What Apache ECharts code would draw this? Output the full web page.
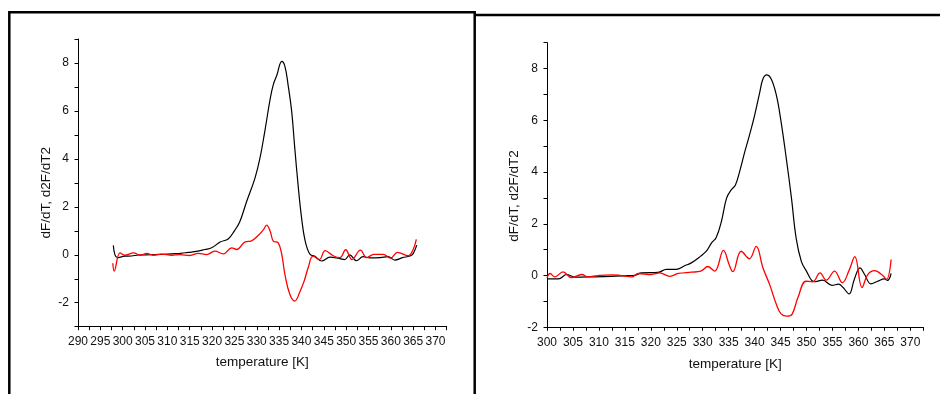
<!DOCTYPE html>
<html>
<head>
<meta charset="utf-8">
<script src="https://cdn.jsdelivr.net/npm/echarts@6/dist/echarts.min.js"></script>
<style>
  html, body { margin: 0; padding: 0; background: #fff; }
  #chart { width: 940px; height: 394px; }
</style>
</head>
<body>
<div id="chart"></div>
<script>
// left panel: first derivative (black) and second derivative (red)
const leftBlack = [
  [297.9, 0.39], [298.8, -0.12], [300.5, -0.06], [302, -0.05], [303.5, -0.01],
  [306.5, 0], [309, 0.02], [311, 0.04], [313, 0.06], [314.7, 0.1],
  [316.5, 0.14], [318.4, 0.22], [319.9, 0.29], [321.8, 0.53], [323.6, 0.66],
  [325, 1.0], [326.2, 1.38], [327.7, 2.2], [329.6, 3.2], [330.7, 4.02],
  [331.8, 5.15], [333, 6.5], [333.7, 7.1], [334.5, 7.5], [335.6, 8.07],
  [336.3, 7.86], [337, 7.1], [337.8, 6.0], [338.5, 4.46], [339.3, 2.8],
  [340, 1.58], [340.8, 0.6], [341.9, 0.02], [343, -0.06], [344.5, -0.26],
  [346.4, -0.1], [348.6, -0.16], [349.7, -0.2], [350.8, 0.0], [352.3, -0.25],
  [353.8, -0.08], [355.3, -0.13], [357.6, -0.12], [359.4, -0.08], [360.9, -0.22],
  [362.6, -0.12], [364.3, -0.05], [365, 0.05], [365.8, 0.4]
];
const leftRed = [
  [297.8, -0.35], [298.1, -0.68], [299.4, 0.08], [300.5, -0.02], [302.4, 0.08],
  [303.9, -0.02], [305.4, 0.06], [306.8, -0.02], [308.7, 0.03], [311, -0.02],
  [312.8, 0.01], [315, -0.03], [316.9, 0.06], [318.8, 0.01], [320.6, 0.15],
  [322.5, 0.04], [324.4, 0.29], [325.5, 0.22], [327.4, 0.54], [328.7, 0.57],
  [330.3, 0.8], [331.5, 1.05], [332.2, 1.24], [333, 0.98], [333.7, 0.57],
  [334.8, 0.5], [335.6, 0.01], [336.3, -0.82], [337.4, -1.65], [338.5, -1.93],
  [339.7, -1.52], [340.6, -1.1], [341.5, -0.54], [342.6, -0.06], [344, -0.2],
  [345.3, 0.17], [347.1, -0.04], [348.6, -0.12], [349.9, 0.21], [351.3, -0.2],
  [353.2, 0.19], [354.6, -0.12], [356.2, 0.02], [358.3, 0.02], [359.9, -0.14],
  [361.5, 0.1], [363.9, -0.04], [365, 0.22], [365.7, 0.64]
];

// right panel
const rightBlack = [
  [300, -0.13], [302.2, -0.13], [303.8, 0.04], [305.4, -0.06], [308.6, -0.05],
  [312.4, -0.03], [315.6, 0], [316.9, 0.01], [318.2, 0.1], [321.4, 0.12],
  [323, 0.24], [324.9, 0.24], [326.5, 0.38], [327.8, 0.49], [329.6, 0.75],
  [330.7, 0.94], [331.7, 1.26], [332.6, 1.47], [333.6, 2.09], [334.6, 2.99],
  [335.5, 3.31], [336.3, 3.5], [337.1, 4.01], [338.1, 4.78], [339, 5.42],
  [340, 6.19], [341, 7.09], [341.6, 7.6], [342.3, 7.76], [343.2, 7.6],
  [344.2, 6.96], [345.1, 5.94], [346.1, 4.53], [347.1, 2.99], [348, 1.45],
  [349, 0.55], [349.9, 0.2], [351.5, -0.24], [353.1, -0.18], [354.9, -0.38],
  [356.2, -0.33], [357, -0.45], [358.2, -0.71], [359.2, -0.15], [360.3, 0.3],
  [361.2, 0.04], [362.4, -0.32], [363.7, -0.22], [365, -0.13], [365.6, -0.19],
  [366.3, 0.08]
];
const rightRed = [
  [300, -0.09], [300.6, 0.08], [301.5, -0.05], [303.1, 0.14], [304.7, -0.08],
  [306.7, 0.04], [307.9, -0.05], [309.8, 0], [312.4, 0.03], [314.3, 0],
  [316.3, -0.05], [317.6, 0.08], [320.1, 0.04], [321.7, 0.1], [323.7, -0.03],
  [325.3, 0.08], [327.8, 0.13], [329.6, 0.17], [331, 0.35], [332.3, 0.17],
  [334, 0.97], [335.1, 0.42], [335.8, 0.15], [337.4, 0.94], [339, 0.65],
  [340.3, 1.13], [341.6, 0.3], [342.9, -0.35], [344.2, -1.12], [345.1, -1.48],
  [346.2, -1.57], [347.2, -1.5], [348.3, -0.88], [349.9, -0.22], [351.2, -0.24],
  [352.6, 0.1], [353.8, -0.18], [355.4, 0.17], [356.9, -0.28], [358.2, 0.2],
  [359.3, 0.73], [360.7, -0.46], [361.8, 0.04], [363.1, 0.19], [364.7, 0],
  [365.4, -0.15], [366.3, 0.62]
];

const font = '"Liberation Sans", Arial, sans-serif';
const yName = 'dF/dT, d2F/dT2';
const xName = 'temperature [K]';

const chart = echarts.init(document.getElementById('chart'), null, { renderer: 'canvas' });

function xAxisFor(gridIndex, min, gap) {
  return {
    type: 'value',
    gridIndex: gridIndex,
    min: min,
    max: 372.5,
    interval: 2.5,
    name: xName,
    nameLocation: 'middle',
    nameGap: gap,
    nameTextStyle: { fontFamily: font, fontSize: 13.5, color: '#111' },
    axisLine: { onZero: false, lineStyle: { color: '#000', width: 1 } },
    axisTick: { length: 3.5, lineStyle: { color: '#000' } },
    axisLabel: {
      margin: 9,
      fontFamily: font,
      fontSize: 12,
      color: '#111',
      formatter: (v) => (v % 5 === 0 ? String(v) : '')
    },
    splitLine: { show: false }
  };
}

function yAxisFor(gridIndex, min, gap, shift) {
  return {
    type: 'value',
    gridIndex: gridIndex,
    min: min,
    max: 9,
    interval: 1,
    name: yName,
    nameLocation: 'middle',
    nameGap: gap,
    nameTextStyle: { fontFamily: font, fontSize: 13.5, color: '#111', padding: [0, shift, 0, 0] },
    axisLine: { show: true, onZero: false, lineStyle: { color: '#000', width: 1 } },
    axisTick: { show: true, length: 3.5, lineStyle: { color: '#000' } },
    axisLabel: {
      margin: 9,
      fontFamily: font,
      fontSize: 12,
      color: '#111',
      formatter: (v) => (v % 2 === 0 ? String(v) : '')
    },
    splitLine: { show: false }
  };
}

function lineSeries(data, color, xi) {
  return {
    type: 'line',
    xAxisIndex: xi,
    yAxisIndex: xi,
    data: data,
    smooth: 0.4,
    showSymbol: false,
    symbol: 'none',
    silent: true,
    lineStyle: { color: color, width: color === '#000000' ? 1.2 : 1.3 }
  };
}

chart.setOption({
  animation: false,
  backgroundColor: '#ffffff',
  grid: [
    { left: 78, top: 39, width: 368.7, height: 287.7 },
    { left: 547, top: 42.7, width: 376.3, height: 284.6 }
  ],
  xAxis: [xAxisFor(0, 290, 29), xAxisFor(1, 300, 30)],
  yAxis: [yAxisFor(0, -3, 25, 20), yAxisFor(1, -2, 26, 22)],
  series: [
    lineSeries(leftBlack, '#000000', 0),
    lineSeries(leftRed, '#ff0000', 0),
    lineSeries(rightBlack, '#000000', 1),
    lineSeries(rightRed, '#ff0000', 1)
  ],
  graphic: [
    {
      type: 'polyline',
      silent: true,
      shape: { points: [[9.3, 396], [9.3, 12.2], [474.7, 12.2], [474.7, 396]] },
      style: { stroke: '#000', lineWidth: 2.5, fill: null }
    },
    {
      type: 'line',
      silent: true,
      shape: { x1: 474.7, y1: 15, x2: 942, y2: 15 },
      style: { stroke: '#000', lineWidth: 2.5 }
    }
  ]
});
</script>
</body>
</html>
